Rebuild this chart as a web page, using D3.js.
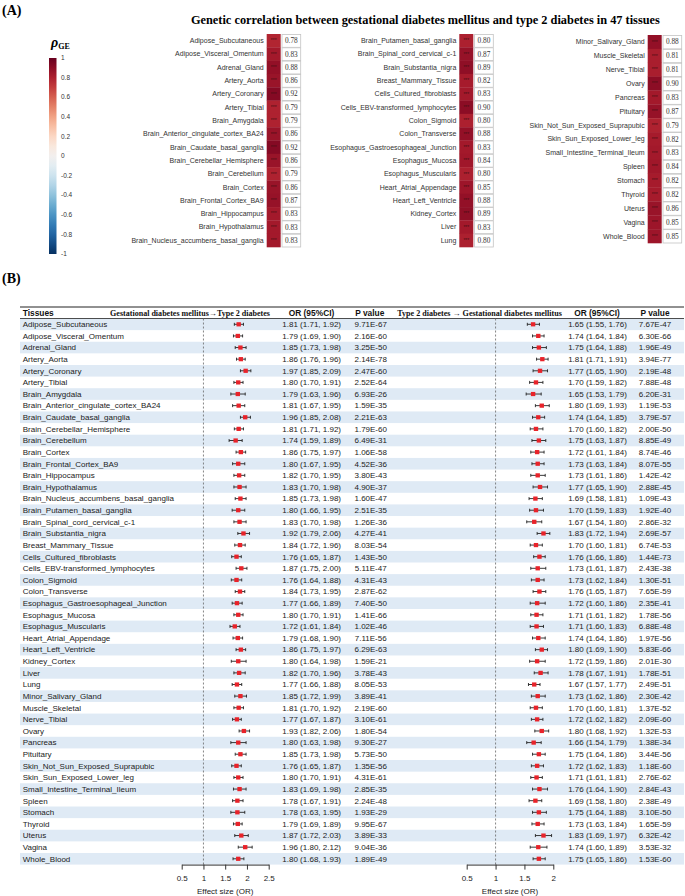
<!DOCTYPE html>
<html>
<head>
<meta charset="utf-8">
<script src="https://cdn.jsdelivr.net/npm/d3@7"></script>
<style>
  body { margin: 0; background: #fff; }
  svg { display: block; }
  .sans { font-family: "Liberation Sans", Arial, sans-serif; }
  .serif { font-family: "Liberation Serif", "Times New Roman", serif; }
</style>
</head>
<body>
<div id="chart"></div>
<script>
// tissues, in table order
const tissues = [
  "Adipose_Subcutaneous", "Adipose_Visceral_Omentum", "Adrenal_Gland", "Artery_Aorta",
  "Artery_Coronary", "Artery_Tibial", "Brain_Amygdala", "Brain_Anterior_cingulate_cortex_BA24",
  "Brain_Caudate_basal_ganglia", "Brain_Cerebellar_Hemisphere", "Brain_Cerebellum", "Brain_Cortex",
  "Brain_Frontal_Cortex_BA9", "Brain_Hippocampus", "Brain_Hypothalamus", "Brain_Nucleus_accumbens_basal_ganglia",
  "Brain_Putamen_basal_ganglia", "Brain_Spinal_cord_cervical_c-1", "Brain_Substantia_nigra", "Breast_Mammary_Tissue",
  "Cells_Cultured_fibroblasts", "Cells_EBV-transformed_lymphocytes", "Colon_Sigmoid", "Colon_Transverse",
  "Esophagus_Gastroesophageal_Junction", "Esophagus_Mucosa", "Esophagus_Muscularis", "Heart_Atrial_Appendage",
  "Heart_Left_Ventricle", "Kidney_Cortex", "Liver", "Lung",
  "Minor_Salivary_Gland", "Muscle_Skeletal", "Nerve_Tibial", "Ovary",
  "Pancreas", "Pituitary", "Skin_Not_Sun_Exposed_Suprapubic", "Skin_Sun_Exposed_Lower_leg",
  "Small_Intestine_Terminal_Ileum", "Spleen", "Stomach", "Thyroid",
  "Uterus", "Vagina", "Whole_Blood"
];

// genetic correlation rho_GE per tissue
const rhoGE = [
  0.78, 0.83, 0.88, 0.86, 0.92, 0.79, 0.79, 0.86, 0.92, 0.86, 0.79, 0.86, 0.87, 0.83, 0.83, 0.83,
  0.80, 0.87, 0.89, 0.82, 0.83, 0.90, 0.80, 0.88, 0.83, 0.84, 0.80, 0.85, 0.88, 0.89, 0.83, 0.80,
  0.88, 0.81, 0.81, 0.90, 0.83, 0.87, 0.79, 0.82, 0.83, 0.84, 0.82, 0.82, 0.86, 0.85, 0.85
];
// how the heatmap splits into three columns
const heatCols = [16, 16, 15];

// GDM -> T2D
const gdmOR = [1.81,1.79,1.85,1.86,1.97,1.80,1.79,1.81,1.96,1.81,1.74,1.86,1.80,1.82,1.83,1.85,
  1.80,1.83,1.92,1.84,1.76,1.87,1.76,1.84,1.77,1.80,1.72,1.79,1.86,1.80,1.82,1.77,
  1.85,1.81,1.77,1.93,1.80,1.85,1.76,1.80,1.83,1.78,1.78,1.79,1.87,1.96,1.80];
const gdmLo = [1.71,1.69,1.73,1.76,1.85,1.70,1.63,1.67,1.85,1.71,1.59,1.75,1.67,1.70,1.70,1.73,
  1.66,1.70,1.79,1.72,1.65,1.75,1.64,1.73,1.66,1.70,1.61,1.68,1.75,1.64,1.70,1.66,
  1.72,1.70,1.67,1.82,1.63,1.73,1.65,1.70,1.69,1.67,1.63,1.69,1.72,1.80,1.68];
const gdmHi = [1.92,1.90,1.98,1.96,2.09,1.91,1.96,1.95,2.08,1.92,1.89,1.97,1.95,1.95,1.98,1.98,
  1.95,1.98,2.06,1.96,1.87,2.00,1.88,1.95,1.89,1.91,1.84,1.90,1.97,1.98,1.96,1.88,
  1.99,1.92,1.87,2.06,1.98,1.98,1.87,1.91,1.98,1.91,1.95,1.89,2.03,2.12,1.93];
const gdmP = ["9.71E-67","2.16E-60","3.25E-50","2.14E-78","2.47E-60","2.52E-64","6.93E-26","1.59E-35",
  "2.21E-63","1.79E-60","6.49E-31","1.06E-58","4.52E-36","3.80E-43","4.90E-37","1.60E-47",
  "2.51E-35","1.26E-36","4.27E-41","8.03E-54","1.43E-50","5.11E-47","4.31E-43","2.87E-62",
  "7.40E-50","1.41E-66","1.02E-46","7.11E-56","6.29E-63","1.59E-21","3.78E-43","8.05E-53",
  "3.89E-41","2.19E-60","3.10E-61","1.80E-54","9.30E-27","5.73E-50","1.35E-56","4.31E-61",
  "2.85E-35","2.24E-48","1.93E-29","9.95E-67","3.89E-33","9.04E-36","1.89E-49"];

// T2D -> GDM
const t2dOR = [1.65,1.74,1.75,1.81,1.77,1.70,1.65,1.80,1.74,1.70,1.75,1.72,1.73,1.73,1.77,1.69,
  1.70,1.67,1.83,1.70,1.76,1.73,1.73,1.76,1.72,1.71,1.71,1.74,1.80,1.72,1.78,1.67,
  1.73,1.70,1.72,1.80,1.66,1.75,1.72,1.71,1.76,1.69,1.75,1.73,1.83,1.74,1.75];
const t2dLo = [1.55,1.64,1.64,1.71,1.65,1.59,1.53,1.69,1.64,1.60,1.63,1.61,1.63,1.61,1.65,1.58,
  1.59,1.54,1.72,1.60,1.66,1.61,1.62,1.65,1.60,1.61,1.60,1.64,1.69,1.59,1.67,1.57,
  1.62,1.60,1.62,1.68,1.54,1.64,1.62,1.61,1.64,1.58,1.64,1.63,1.69,1.60,1.65];
const t2dHi = [1.76,1.84,1.88,1.91,1.90,1.82,1.79,1.93,1.85,1.82,1.87,1.84,1.84,1.86,1.90,1.81,
  1.83,1.80,1.94,1.81,1.86,1.87,1.84,1.87,1.86,1.82,1.83,1.86,1.90,1.86,1.91,1.77,
  1.86,1.81,1.82,1.92,1.79,1.86,1.83,1.81,1.90,1.80,1.88,1.84,1.97,1.89,1.86];
const t2dP = ["7.67E-47","6.30E-66","1.96E-49","3.94E-77","2.19E-48","7.88E-48","6.20E-31","1.19E-53",
  "3.79E-57","2.00E-50","8.85E-49","8.74E-46","8.07E-55","1.42E-42","2.88E-45","1.09E-43",
  "1.92E-40","2.86E-32","2.69E-57","6.74E-53","1.44E-73","2.43E-38","1.30E-51","7.65E-59",
  "2.35E-41","1.78E-56","6.88E-48","1.97E-56","5.83E-66","2.01E-30","1.78E-51","2.49E-51",
  "2.30E-42","1.37E-52","2.09E-60","1.32E-53","1.38E-34","3.44E-56","1.18E-60","2.76E-62",
  "2.84E-43","2.38E-49","3.10E-50","1.65E-59","6.32E-42","3.53E-32","1.53E-60"];

const leftTicks = [0.5, 1, 1.5, 2, 2.5];
const rightTicks = [0.5, 1, 1.5, 2];
const barTicks = [1, 0.8, 0.6, 0.4, 0.2, 0, -0.2, -0.4, -0.6, -0.8, -1];

const W = 685, H = 896;
const svg = d3.select("#chart").append("svg")
  .attr("width", W).attr("height", H);

const rhoColor = v => d3.interpolateRdBu((1 - v) / 2);
const fmt2 = d3.format(".2f");

// scale a text's font so it fills a given width
function fitWidth(sel, target) {
  const fs = +sel.attr("font-size");
  const w = sel.node().getComputedTextLength();
  if (w > 0) sel.attr("font-size", fs * target / w);
}

// ---------- panel A ----------
svg.append("text").attr("class", "serif")
  .attr("x", 2).attr("y", 15)
  .attr("font-size", 14).attr("font-weight", "bold")
  .text("(A)");

const title = svg.append("text").attr("class", "serif")
  .attr("x", 425.4).attr("y", 24)
  .attr("text-anchor", "middle")
  .attr("font-size", 12).attr("font-weight", "bold")
  .text("Genetic correlation between gestational diabetes mellitus and type 2 diabetes in 47 tissues");
fitWidth(title, 469);

// colour bar
const defs = svg.append("defs");
const grad = defs.append("linearGradient").attr("id", "rhoGrad")
  .attr("x1", 0).attr("y1", 0).attr("x2", 0).attr("y2", 1);
d3.range(0, 1.0001, 0.05).forEach(t => {
  grad.append("stop").attr("offset", t).attr("stop-color", rhoColor(1 - 2 * t));
});
const barY = d3.scaleLinear().domain([1, -1]).range([58, 254]);
svg.append("rect")
  .attr("x", 49).attr("y", barY(1))
  .attr("width", 7.5).attr("height", barY(-1) - barY(1))
  .attr("fill", "url(#rhoGrad)");
const barLab = svg.append("g").attr("class", "sans").attr("font-size", 6.5).attr("fill", "#333");
barLab.selectAll("text").data(barTicks).join("text")
  .attr("x", 61).attr("y", d => barY(d)).attr("dy", "0.35em")
  .text(d => d);
const rho = svg.append("text").attr("class", "serif")
  .attr("x", 51).attr("y", 47).attr("font-weight", "bold");
rho.append("tspan").attr("font-size", 14).attr("font-style", "italic").text("ρ");
rho.append("tspan").attr("font-size", 8).attr("dy", 2).text("GE");

// heatmap columns
const colLayout = [
  { cellX: 266.7, y0: 34, y1: 247 },
  { cellX: 459.3, y0: 34, y1: 247 },
  { cellX: 647.7, y0: 35, y1: 243 }
];
let start = 0;
heatCols.forEach((n, ci) => {
  const names = tissues.slice(start, start + n);
  const vals = rhoGE.slice(start, start + n);
  start += n;
  const L = colLayout[ci];
  const yb = d3.scaleBand().domain(names).range([L.y0, L.y1]);
  const g = svg.append("g");
  const cellW = 14, boxX = L.cellX + 15.3, boxW = 18.7;
  const rows = g.selectAll("g").data(names.map((t, i) => ({ t, v: vals[i] }))).join("g");
  rows.append("rect")
    .attr("x", L.cellX).attr("y", d => yb(d.t))
    .attr("width", cellW).attr("height", yb.bandwidth() + 0.3)
    .attr("fill", d => rhoColor(d.v));
  rows.append("text").attr("class", "sans")
    .attr("x", L.cellX + cellW / 2).attr("y", d => yb(d.t) + yb.bandwidth() / 2)
    .attr("dy", "0.35em").attr("text-anchor", "middle")
    .attr("font-size", 5).attr("fill", "#4a0d14")
    .text("***");
  rows.append("rect")
    .attr("x", boxX).attr("y", d => yb(d.t) + 0.5)
    .attr("width", boxW).attr("height", yb.bandwidth() - 0.5)
    .attr("fill", "#fff").attr("stroke", "#c4c4c4").attr("stroke-width", 0.8);
  rows.append("text").attr("class", "serif")
    .attr("x", boxX + boxW / 2).attr("y", d => yb(d.t) + yb.bandwidth() / 2)
    .attr("dy", "0.35em").attr("text-anchor", "middle")
    .attr("font-size", 7.3).attr("fill", "#333")
    .text(d => fmt2(d.v));
  rows.append("text").attr("class", "sans")
    .attr("x", L.cellX - 3).attr("y", d => yb(d.t) + yb.bandwidth() / 2)
    .attr("dy", "0.35em").attr("text-anchor", "end")
    .attr("font-size", 7).attr("fill", "#333")
    .text(d => d.t);
});

// ---------- panel B ----------
svg.append("text").attr("class", "serif")
  .attr("x", 2).attr("y", 283)
  .attr("font-size", 14).attr("font-weight", "bold")
  .text("(B)");

const tableL = 20, tableR = 684;
const y = d3.scaleBand().domain(tissues).range([318.5, 864.6]);
const leftX = d3.scaleLinear().domain([0.5, 2.5]).range([181.7, 268.7]);
const rightX = d3.scaleLinear().domain([0.5, 2]).range([466.7, 553.3]);

const rowsData = tissues.map((t, i) => ({
  t, i,
  a: { or: gdmOR[i], lo: gdmLo[i], hi: gdmHi[i], p: gdmP[i] },
  b: { or: t2dOR[i], lo: t2dLo[i], hi: t2dHi[i], p: t2dP[i] }
}));

svg.append("g").selectAll("rect").data(rowsData.filter(d => d.i % 2 === 0)).join("rect")
  .attr("x", tableL).attr("y", d => y(d.t))
  .attr("width", tableR - tableL).attr("height", y.bandwidth())
  .attr("fill", "#dfeaf5");

svg.append("line").attr("x1", tableL).attr("x2", tableR)
  .attr("y1", 307).attr("y2", 307).attr("stroke", "#222").attr("stroke-width", 1);
svg.append("line").attr("x1", tableL).attr("x2", tableR)
  .attr("y1", 318.5).attr("y2", 318.5).attr("stroke", "#222").attr("stroke-width", 0.8);

// headers
const hdrY = 313;
const hdr = svg.append("g").attr("font-weight", "bold").attr("fill", "#111");
hdr.append("text").attr("class", "sans").attr("x", 22.7).attr("y", hdrY).attr("dy", "0.35em")
  .attr("font-size", 8.4).text("Tissues");
[[311.5, "OR (95%CI)"], [369.8, "P value"], [597, "OR (95%CI)"], [655, "P value"]].forEach(([x, s]) => {
  hdr.append("text").attr("class", "sans").attr("x", x).attr("y", hdrY).attr("dy", "0.35em")
    .attr("text-anchor", "middle").attr("font-size", 8.4).text(s);
});
[[190, 160, "Gestational diabetes mellitus→Type 2 diabetes"],
 [479.5, 165, "Type 2 diabetes → Gestational diabetes mellitus"]].forEach(([x, w, s]) => {
  const t = hdr.append("text").attr("class", "serif").attr("x", x).attr("y", hdrY).attr("dy", "0.35em")
    .attr("text-anchor", "middle").attr("font-size", 8).text(s);
  fitWidth(t, w);
});

// dashed reference lines at OR = 1
[leftX, rightX].forEach(sx => {
  svg.append("line").attr("x1", sx(1)).attr("x2", sx(1))
    .attr("y1", 318.5).attr("y2", 864.6)
    .attr("stroke", "#666").attr("stroke-width", 0.8).attr("stroke-dasharray", "2,2");
});

// rows text
const body = svg.append("g").attr("class", "sans").attr("font-size", 8).attr("fill", "#222");
const rowG = body.selectAll("g").data(rowsData).join("g")
  .attr("transform", d => `translate(0,${y(d.t) + y.bandwidth() / 2})`);
rowG.append("text").attr("x", 22.7).attr("dy", "0.35em").text(d => d.t);
const orText = r => `${fmt2(r.or)} (${fmt2(r.lo)}, ${fmt2(r.hi)})`;
rowG.append("text").attr("x", 311.7).attr("dy", "0.35em").attr("text-anchor", "middle").text(d => orText(d.a));
rowG.append("text").attr("x", 370.7).attr("dy", "0.35em").attr("text-anchor", "middle").text(d => d.a.p);
rowG.append("text").attr("x", 597.5).attr("dy", "0.35em").attr("text-anchor", "middle").text(d => orText(d.b));
rowG.append("text").attr("x", 655).attr("dy", "0.35em").attr("text-anchor", "middle").text(d => d.b.p);

// forest marks
function forest(sx, key) {
  const g = svg.append("g");
  const m = g.selectAll("g").data(rowsData).join("g")
    .attr("transform", d => `translate(0,${y(d.t) + y.bandwidth() / 2})`);
  m.append("line").attr("x1", d => sx(d[key].lo)).attr("x2", d => sx(d[key].hi))
    .attr("stroke", "#222").attr("stroke-width", 0.9);
  m.append("line").attr("x1", d => sx(d[key].lo)).attr("x2", d => sx(d[key].lo))
    .attr("y1", -1.5).attr("y2", 1.5).attr("stroke", "#222").attr("stroke-width", 0.9);
  m.append("line").attr("x1", d => sx(d[key].hi)).attr("x2", d => sx(d[key].hi))
    .attr("y1", -1.5).attr("y2", 1.5).attr("stroke", "#222").attr("stroke-width", 0.9);
  m.append("rect").attr("x", d => sx(d[key].or) - 2.2).attr("y", -2.1)
    .attr("width", 4.4).attr("height", 4.2).attr("fill", "#e8232a");
}
forest(leftX, "a");
forest(rightX, "b");

// axes
function axis(sx, ticks) {
  const g = svg.append("g").attr("transform", "translate(0,864.6)")
    .call(d3.axisBottom(sx).tickValues(ticks).tickFormat(d3.format("")).tickSize(5).tickSizeOuter(0));
  g.select(".domain").attr("stroke", "#333");
  g.selectAll(".tick line").attr("stroke", "#333");
  g.selectAll(".tick text").attr("class", "sans").attr("font-size", 8).attr("fill", "#222").attr("dy", "1.1em");
  svg.append("text").attr("class", "sans")
    .attr("x", (sx.range()[0] + sx.range()[1]) / 2).attr("y", 893.5)
    .attr("text-anchor", "middle").attr("font-size", 8).attr("fill", "#222")
    .text("Effect size (OR)");
}
axis(leftX, leftTicks);
axis(rightX, rightTicks);
</script>
</body>
</html>
